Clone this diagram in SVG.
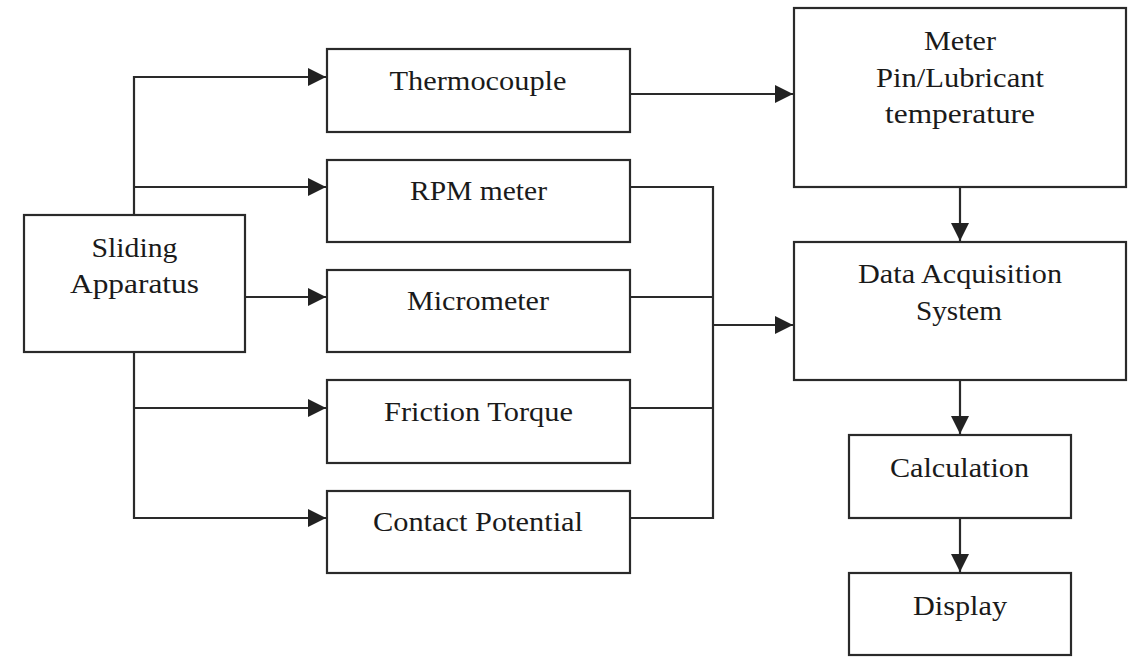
<svg xmlns="http://www.w3.org/2000/svg" width="1135" height="657" viewBox="0 0 1135 657">
<style>
.box{fill:#fff;stroke:#2a2a2a;stroke-width:2.2}
.lbl{font-family:"Liberation Serif","Times New Roman",serif;font-size:27px;fill:#1a1a1a;text-anchor:middle}
.ln{fill:none;stroke:#2a2a2a;stroke-width:2.2}
</style>
<defs>
<marker id="ah" markerUnits="userSpaceOnUse" markerWidth="19" markerHeight="18" refX="18" refY="9" orient="auto">
<path d="M0,0 L18,9 L0,18 Z" fill="#222"/>
</marker>
</defs>
<rect width="1135" height="657" fill="#fff"/>
<g id="connectors">
<path class="ln" d="M134,215 V77 H326" marker-end="url(#ah)"/>
<path class="ln" d="M134,187 H326" marker-end="url(#ah)"/>
<path class="ln" d="M245,297 H326" marker-end="url(#ah)"/>
<path class="ln" d="M134,352 V518 H326" marker-end="url(#ah)"/>
<path class="ln" d="M134,408 H326" marker-end="url(#ah)"/>
<path class="ln" d="M630,94 H793" marker-end="url(#ah)"/>
<path class="ln" d="M630,187 H713 V518 H630"/>
<path class="ln" d="M630,297 H713"/>
<path class="ln" d="M630,408 H713"/>
<path class="ln" d="M713,325 H793" marker-end="url(#ah)"/>
<path class="ln" d="M960,187 V241" marker-end="url(#ah)"/>
<path class="ln" d="M960,380 V434" marker-end="url(#ah)"/>
<path class="ln" d="M960,518 V572" marker-end="url(#ah)"/>
</g>
<g id="sliding">
<rect class="box" x="24" y="215" width="221" height="137"/>
<text class="lbl" x="134.5" y="257" textLength="86" lengthAdjust="spacingAndGlyphs">Sliding</text>
<text class="lbl" x="134.5" y="293" textLength="129" lengthAdjust="spacingAndGlyphs">Apparatus</text>
</g>
<g id="thermocouple">
<rect class="box" x="327" y="49" width="303" height="83"/>
<text class="lbl" x="478" y="90" textLength="177" lengthAdjust="spacingAndGlyphs">Thermocouple</text>
</g>
<g id="rpm">
<rect class="box" x="327" y="160" width="303" height="82"/>
<text class="lbl" x="478.5" y="200" textLength="137" lengthAdjust="spacingAndGlyphs">RPM meter</text>
</g>
<g id="micrometer">
<rect class="box" x="327" y="270" width="303" height="82"/>
<text class="lbl" x="478" y="310" textLength="142" lengthAdjust="spacingAndGlyphs">Micrometer</text>
</g>
<g id="friction">
<rect class="box" x="327" y="380" width="303" height="83"/>
<text class="lbl" x="478.5" y="421" textLength="189" lengthAdjust="spacingAndGlyphs">Friction Torque</text>
</g>
<g id="contact">
<rect class="box" x="327" y="491" width="303" height="82"/>
<text class="lbl" x="478" y="531" textLength="210" lengthAdjust="spacingAndGlyphs">Contact Potential</text>
</g>
<g id="meter">
<rect class="box" x="794" y="8" width="332" height="179"/>
<text class="lbl" x="960" y="50" textLength="72" lengthAdjust="spacingAndGlyphs">Meter</text>
<text class="lbl" x="960" y="87" textLength="168" lengthAdjust="spacingAndGlyphs">Pin/Lubricant</text>
<text class="lbl" x="960" y="123" textLength="150" lengthAdjust="spacingAndGlyphs">temperature</text>
</g>
<g id="daq">
<rect class="box" x="794" y="242" width="332" height="138"/>
<text class="lbl" x="960" y="283" textLength="204" lengthAdjust="spacingAndGlyphs">Data Acquisition</text>
<text class="lbl" x="959" y="320" textLength="86" lengthAdjust="spacingAndGlyphs">System</text>
</g>
<g id="calculation">
<rect class="box" x="849" y="435" width="222" height="83"/>
<text class="lbl" x="959.5" y="477" textLength="139" lengthAdjust="spacingAndGlyphs">Calculation</text>
</g>
<g id="display">
<rect class="box" x="849" y="573" width="222" height="82"/>
<text class="lbl" x="960" y="615" textLength="94" lengthAdjust="spacingAndGlyphs">Display</text>
</g>
</svg>
